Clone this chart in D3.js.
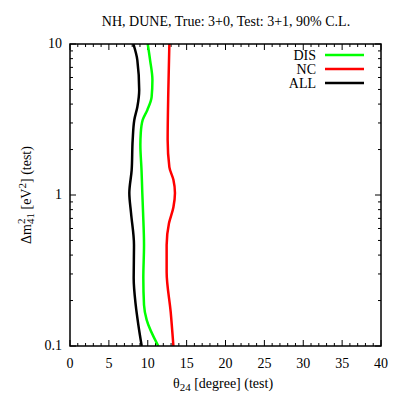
<!DOCTYPE html>
<html>
<head>
<meta charset="utf-8">
<script src="https://cdn.jsdelivr.net/npm/d3@7"></script>
<style>
	body { margin: 0; background: #fff; }
	text { font-family: "Liberation Serif", "DejaVu Serif", serif; font-size: 14px; fill: #000; }
</style>
</head>
<body>
<svg id="chart" width="407" height="407"></svg>
<script>
// === Data ===
const titleText = 'NH, DUNE, True: 3+0, Test: 3+1, 90% C.L.';
const xTicks = [0, 5, 10, 15, 20, 25, 30, 35, 40];
const yTicks = [0.1, 1, 10];

// Δm²41 [eV²] sample points, with θ24 [deg] for each series
const disDm2 = [10, 7.83, 5.78, 4.46, 3.66, 3.14, 2.57, 2.14, 1.46, 1.03, 0.76, 0.467, 0.282, 0.187, 0.149, 0.1];
const disTheta = [10.0, 10.3, 10.6, 10.5, 9.95, 9.35, 9.1, 9.05, 9.2, 9.3, 9.4, 9.52, 9.43, 9.52, 9.86, 11.36];

const ncDm2 = [10, 5, 2.31, 1.53, 1.26, 1.03, 0.83, 0.65, 0.467, 0.309, 0.168, 0.1];
const ncTheta = [12.78, 12.65, 12.56, 12.78, 13.3, 13.5, 13.3, 12.73, 12.43, 12.43, 12.95, 13.3];

const allDm2 = [10, 7.83, 4.96, 3.83, 3.14, 2.31, 1.46, 1.03, 0.76, 0.467, 0.282, 0.187, 0.138, 0.1];
const allTheta = [8.15, 8.66, 8.9, 8.66, 8.27, 8.06, 7.93, 7.63, 7.85, 8.23, 8.19, 8.45, 8.79, 9.22];

const seriesNames = ['DIS', 'NC', 'ALL'];
const seriesColors = ['#00ff00', '#ff0000', '#000000'];

// === Layout ===
const margins = {top: 44, right: 26, bottom: 61, left: 70};
const W = 407, H = 407;
const innerW = W - margins.left - margins.right;
const innerH = H - margins.top - margins.bottom;

const svg = d3.select('#chart');
const g = svg.append('g').attr('transform', `translate(${margins.left},${margins.top})`);

const x = d3.scaleLinear().domain([0, 40]).range([0, innerW]);
const y = d3.scaleLog().domain([0.1, 10]).range([innerH, 0]);

// Title
svg.append('text')
	.attr('x', 226).attr('y', 26)
	.attr('text-anchor', 'middle')
	.text(titleText);

// Minor / major ticks (inward, mirrored on all four sides)
const xMinor = d3.range(0, 41, 1);
const yMinor = [];
[0.1, 1].forEach(dec => d3.range(1, 10).forEach(k => yMinor.push(dec * k)));
yMinor.push(10);

const ticksG = g.append('g').attr('stroke', '#000').attr('stroke-width', 1);
xMinor.forEach(v => {
	const len = v % 5 === 0 ? 6 : 3;
	ticksG.append('line').attr('x1', x(v)).attr('x2', x(v)).attr('y1', innerH).attr('y2', innerH - len);
	ticksG.append('line').attr('x1', x(v)).attr('x2', x(v)).attr('y1', 0).attr('y2', len);
});
yMinor.forEach(v => {
	const major = yTicks.some(t => Math.abs(t - v) < 1e-9);
	const len = major ? 6 : 3;
	ticksG.append('line').attr('x1', 0).attr('x2', len).attr('y1', y(v)).attr('y2', y(v));
	ticksG.append('line').attr('x1', innerW).attr('x2', innerW - len).attr('y1', y(v)).attr('y2', y(v));
});

// Tick labels
g.append('g').selectAll('text').data(xTicks).join('text')
	.attr('x', d => x(d))
	.attr('y', innerH + 22)
	.attr('text-anchor', 'middle')
	.text(d => d);

g.append('g').selectAll('text').data(yTicks).join('text')
	.attr('x', -8)
	.attr('y', d => y(d) + 4)
	.attr('text-anchor', 'end')
	.text(d => d);

// Axis labels
const xl = svg.append('text')
	.attr('x', 223).attr('y', 388)
	.attr('text-anchor', 'middle');
xl.append('tspan').text('θ');
xl.append('tspan').attr('dy', 3).style('font-size', '11px').text('24');
xl.append('tspan').attr('dy', -3).text(' [degree] (test)');

// Δm²₄₁ with the 2 stacked above the 41
const yl = svg.append('text')
	.attr('transform', 'translate(31,195) rotate(-90)')
	.attr('text-anchor', 'middle');
yl.append('tspan').text('Δm');
const sup = yl.append('tspan').attr('dy', -6).style('font-size', '11px').text('2');
const supW = sup.node().getComputedTextLength();
yl.append('tspan').attr('dx', -supW).attr('dy', 9).style('font-size', '11px').text('41');
yl.append('tspan').attr('dy', -3).text(' [eV');
yl.append('tspan').attr('dy', -5).style('font-size', '11px').text('2');
yl.append('tspan').attr('dy', 5).text('] (test)');

// Curves
const line = d3.line()
	.x(d => x(d[0]))
	.y(d => y(d[1]))
	.curve(d3.curveMonotoneY);

const curves = [
	d3.zip(disTheta, disDm2),
	d3.zip(ncTheta, ncDm2),
	d3.zip(allTheta, allDm2)
];

svg.append('clipPath').attr('id', 'clip')
	.append('rect').attr('width', innerW).attr('height', innerH);

g.append('g').attr('clip-path', 'url(#clip)')
	.selectAll('path').data(curves).join('path')
	.attr('d', d => line(d.slice().sort((a, b) => a[1] - b[1])))
	.attr('fill', 'none')
	.attr('stroke', (d, i) => seriesColors[i])
	.attr('stroke-width', 2.5)
	.attr('stroke-linejoin', 'round');

// Frame
g.append('rect')
	.attr('width', innerW).attr('height', innerH)
	.attr('fill', 'none').attr('stroke', '#000').attr('stroke-width', 1.5);

// Legend
const legend = svg.append('g');
seriesNames.forEach((name, i) => {
	const ly = 55 + i * 14;
	legend.append('text').attr('x', 316).attr('y', ly + 5).attr('text-anchor', 'end').text(name);
	legend.append('line').attr('x1', 325).attr('x2', 364).attr('y1', ly).attr('y2', ly)
		.attr('stroke', seriesColors[i]).attr('stroke-width', 2.5);
});
</script>
</body>
</html>
